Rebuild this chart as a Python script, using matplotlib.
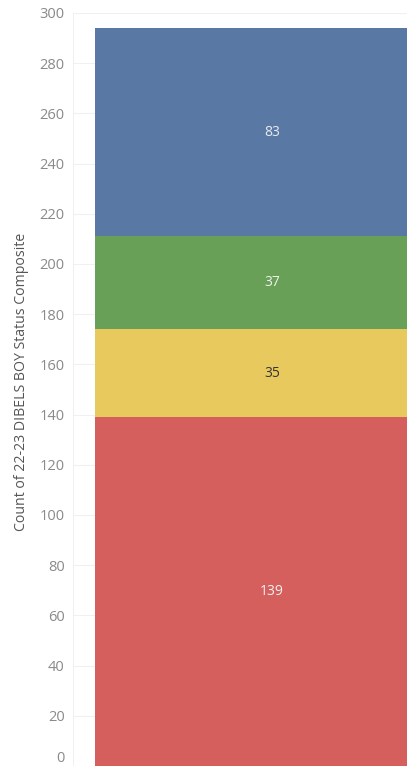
import matplotlib
matplotlib.use("Agg")
import matplotlib.pyplot as plt

# stacked segments, bottom to top
segments = ["Red", "Yellow", "Green", "Blue"]
counts = [139, 35, 37, 83]
colors = ["#d45f5c", "#e8c95e", "#68a057", "#5a78a4"]
text_colors = ["#f2f2f2", "#333333", "#eef2e8", "#e8ecf2"]
yticks = list(range(0, 301, 20))

plt.rcParams["font.family"] = ["Open Sans", "DejaVu Sans"]

fig = plt.figure(figsize=(4.07, 7.66), dpi=100)
W, H = 407, 766
ax = fig.add_axes([73 / W, 0, 1 - 73 / W, (H - 13) / H])

bottom = 0
for name, c, col, tc in zip(segments, counts, colors, text_colors):
    ax.bar(0.596, c, width=1.06, bottom=bottom, color=col, edgecolor="none")
    ax.text(0.596, bottom + c / 2, str(c), ha="center", va="center",
            color=tc, fontsize=10)
    bottom += c

ax.set_xlim(0, 1)
ax.set_ylim(0, 300)
ax.set_yticks(yticks)
ax.set_yticklabels([str(t) for t in yticks])
ax.set_xticks([])
ax.tick_params(axis="y", length=0, pad=6, labelsize=10.5, labelcolor="#8a8a8a")
ax.get_yticklabels()[0].set_va("bottom")
ax.grid(axis="y", color="#f0f0f0", linewidth=0.8)
ax.set_axisbelow(True)
for s in ax.spines.values():
    s.set_visible(False)
ax.axvline(0, color="#f0f0f0", linewidth=0.8, zorder=0)

fig.text(22 / W, 1 - 382 / H, "Count of 22-23 DIBELS BOY Status Composite",
         rotation=90, ha="center", va="center", fontsize=10.2, color="#555555")

fig.savefig("out.png", dpi=100)
